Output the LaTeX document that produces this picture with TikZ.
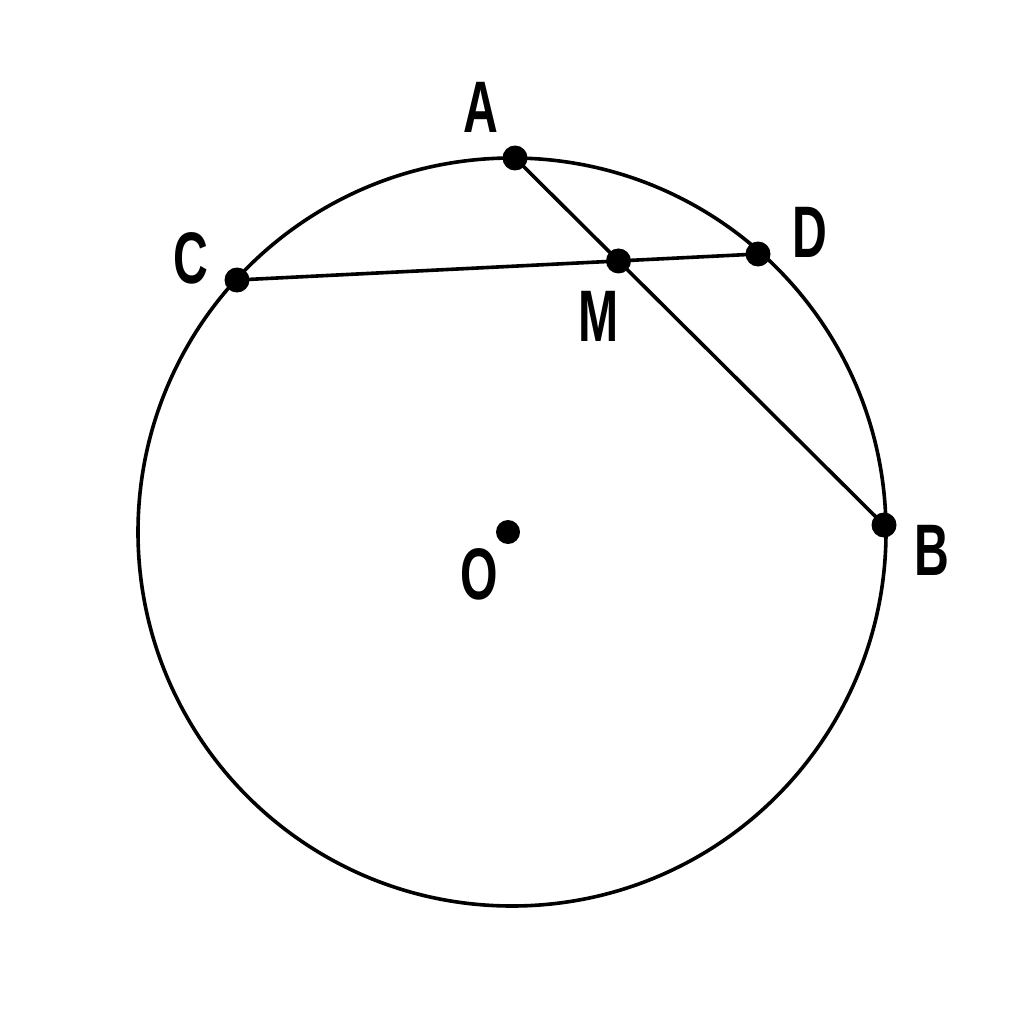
\documentclass[tikz,border=0pt]{standalone}
\usepackage{fontspec}
\setmainfont{Liberation Sans}
\begin{document}
\begin{tikzpicture}[x=1pt,y=-1pt,
  pt/.style={circle,fill=black,inner sep=0pt,minimum size=25pt},
  lbl/.style={font=\fontsize{73}{73}\selectfont\bfseries,inner sep=0pt},
  ln/.style={line width=3.6pt}]
\useasboundingbox (0,0) rectangle (1024,1024);
\coordinate (Oc) at (512,532);
\coordinate (A) at (515,158);
\coordinate (B) at (884,525);
\coordinate (C) at (237,280);
\coordinate (D) at (758,254);
\coordinate (M) at (intersection of A--B and C--D);
\draw[ln] (Oc) circle (374);
\draw[ln] (A) -- (B);
\draw[ln] (C) -- (D);
\node[pt] (pA) at (A) {};
\node[pt] (pB) at (B) {};
\node[pt] (pC) at (C) {};
\node[pt] (pD) at (D) {};
\node[pt] (pM) at (M) {};
\node[pt,minimum size=24pt] (pO) at (508,532) {};
\node[lbl] (lA) at (481,107) {\scalebox{0.66}[1]{A}};
\node[lbl] (lB) at (932,550) {\scalebox{0.66}[1]{B}};
\node[lbl] (lC) at (191,258) {\scalebox{0.66}[1]{C}};
\node[lbl] (lD) at (810,232) {\scalebox{0.66}[1]{D}};
\node[lbl] (lM) at (599,316) {\scalebox{0.66}[1]{M}};
\node[lbl] (lO) at (479,574) {\scalebox{0.66}[1]{O}};
\end{tikzpicture}
\end{document}
